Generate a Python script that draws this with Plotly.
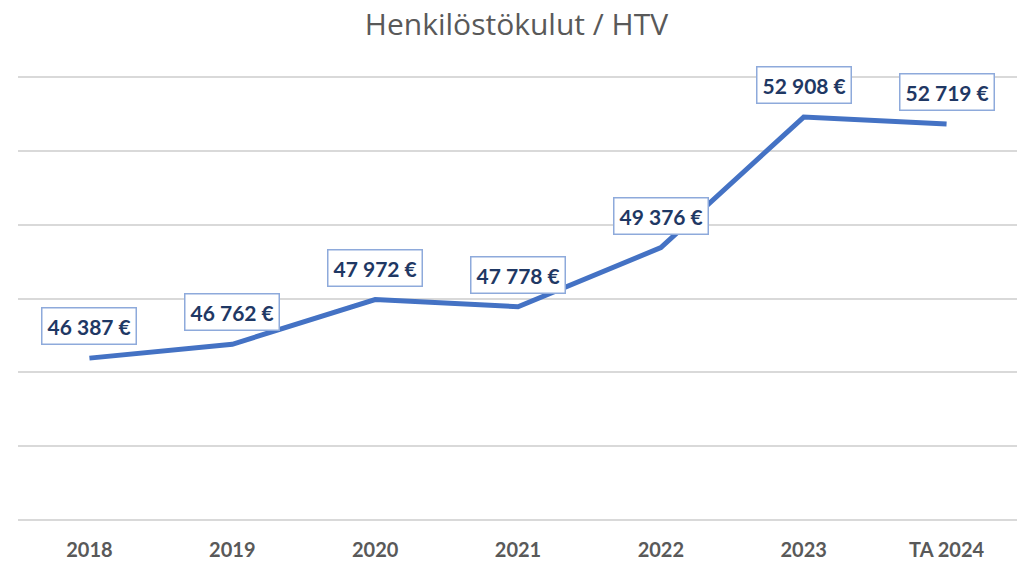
import plotly.graph_objects as go

categories = ["2018", "2019", "2020", "2021", "2022", "2023", "TA 2024"]
values = [46387, 46762, 47972, 47778, 49376, 52908, 52719]
labels = ["46 387 €", "46 762 €", "47 972 €", "47 778 €", "49 376 €", "52 908 €", "52 719 €"]

FONT = "Lato, 'Open Sans', sans-serif"

fig = go.Figure()
fig.add_trace(go.Scatter(
    x=categories, y=values, mode="lines",
    line=dict(color="#4472c4", width=5),
    hoverinfo="skip", showlegend=False,
))

for i, (v, t) in enumerate(zip(values, labels)):
    fig.add_annotation(
        x=i, y=v, text="<b>" + t + "</b>", showarrow=False, yshift=32,
        font=dict(family=FONT, size=21, color="#1f3864"),
        bgcolor="white", bordercolor="#8eaadb", borderwidth=1.5, borderpad=5,
    )

fig.update_layout(
    width=1017, height=555,
    margin=dict(l=10, r=7, t=65, b=39),
    paper_bgcolor="white", plot_bgcolor="white",
    title=dict(text="Henkilöstökulut / HTV", x=0.5, xref="container", xanchor="center",
               y=0.97, yref="container", yanchor="middle",
               font=dict(family="'Open Sans', sans-serif", size=30, color="#595959")),
    xaxis=dict(type="category", range=[-0.5, len(categories) - 0.5], automargin=False,
               showgrid=False, showline=False, ticks="", ticklabelstandoff=12,
               tickfont=dict(family=FONT, size=20, color="#595959", weight="bold")),
    yaxis=dict(range=[41900, 54100], tick0=42000, dtick=2000, showticklabels=False, showgrid=True,
               automargin=False,
               gridcolor="#d9d9d9", gridwidth=1.5, zeroline=False, showline=False),
)

fig.write_html("out.html")
